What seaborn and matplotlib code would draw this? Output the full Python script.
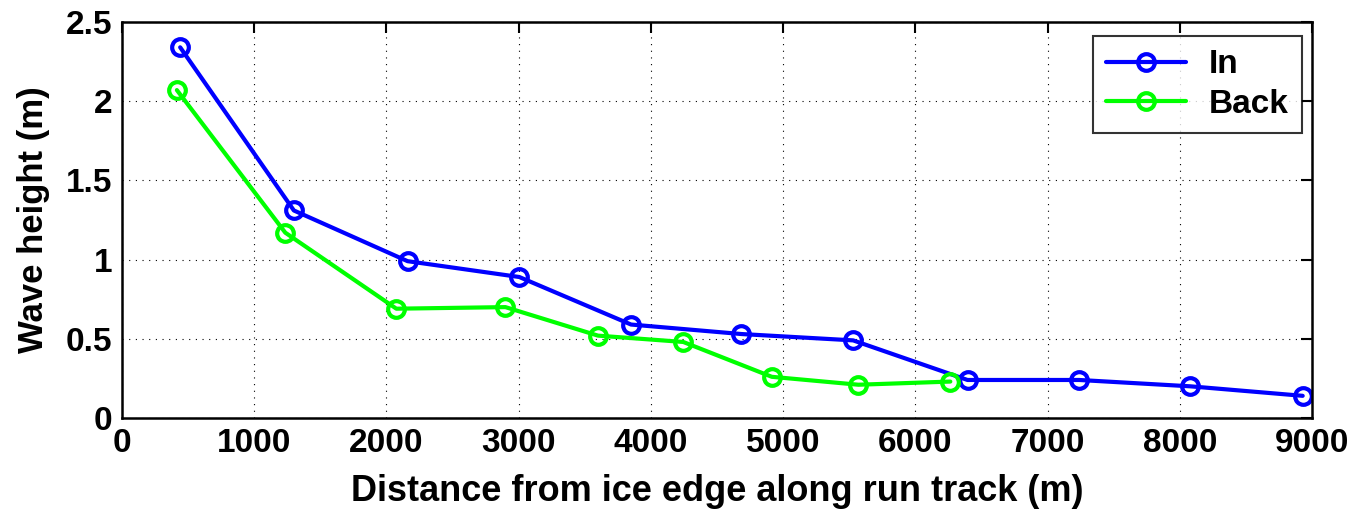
import matplotlib
matplotlib.use("Agg")
import matplotlib.pyplot as plt
import seaborn as sns
import pandas as pd

in_x = [440, 1300, 2160, 3005, 3850, 4685, 5530, 6395, 7240, 8080, 8930]
in_y = [2.34, 1.31, 0.99, 0.89, 0.59, 0.53, 0.49, 0.24, 0.24, 0.20, 0.14]
back_x = [415, 1235, 2075, 2900, 3600, 4245, 4915, 5570, 6265]
back_y = [2.07, 1.17, 0.69, 0.70, 0.52, 0.48, 0.26, 0.21, 0.23]
xticks = [0, 1000, 2000, 3000, 4000, 5000, 6000, 7000, 8000, 9000]
yticks = [0, 0.5, 1, 1.5, 2, 2.5]
ytick_labels = ["0", "0.5", "1", "1.5", "2", "2.5"]

sns.set_style("white")
plt.rcParams['font.family'] = ['Liberation Sans', 'DejaVu Sans']
plt.rcParams['font.weight'] = 'bold'
plt.rcParams['text.color'] = 'black'
plt.rcParams['axes.labelcolor'] = 'black'
plt.rcParams['xtick.color'] = 'black'
plt.rcParams['ytick.color'] = 'black'

df = pd.concat([
    pd.DataFrame({"x": in_x, "y": in_y, "series": "In"}),
    pd.DataFrame({"x": back_x, "y": back_y, "series": "Back"}),
])

FS = 24
fig = plt.figure(figsize=(13.57, 5.11), dpi=100)
ax = fig.add_axes([0.0899, 0.182, 0.8769, 0.775])

palette = {"In": "#0000ff", "Back": "#00ff00"}
for name in ["In", "Back"]:
    sub = df[df.series == name]
    sns.lineplot(data=sub, x="x", y="y", ax=ax, color=palette[name], sort=False,
                 linewidth=3, marker="o", markersize=12, markerfacecolor="none",
                 markeredgecolor=palette[name], markeredgewidth=3, label=name)

ax.set_xlim(0, 9000)
ax.set_ylim(0, 2.5)
ax.set_xticks(xticks)
ax.set_xticklabels([str(t) for t in xticks])
ax.set_yticks(yticks)
ax.set_yticklabels(ytick_labels)
ax.tick_params(axis='both', direction='in', length=8, width=1.5, labelsize=FS,
               top=True, right=True, pad=7, colors='black')
for lab in ax.get_xticklabels() + ax.get_yticklabels():
    lab.set_fontweight('bold')
ax.grid(True, color='black', linestyle=(0, (1, 5)), linewidth=0.8)
for sp in ax.spines.values():
    sp.set_linewidth(1.8)
    sp.set_color('black')
ax.set_xlabel("Distance from ice edge along run track (m)", fontsize=26, fontweight='bold', labelpad=11, color='black')
ax.set_ylabel("Wave height (m)", fontsize=25, fontweight='bold', labelpad=11, color='black')

leg = ax.legend(loc='upper right', fontsize=FS, frameon=True, fancybox=False,
                handlelength=2.4, handletextpad=0.7, borderpad=0.4, labelspacing=0.25,
                borderaxespad=0, bbox_to_anchor=(0.992, 0.965))
leg.get_frame().set_edgecolor('black')
leg.get_frame().set_linewidth(1.5)
for t in leg.get_texts():
    t.set_fontweight('bold')
    t.set_color('black')

fig.savefig("out.png", dpi=100)
